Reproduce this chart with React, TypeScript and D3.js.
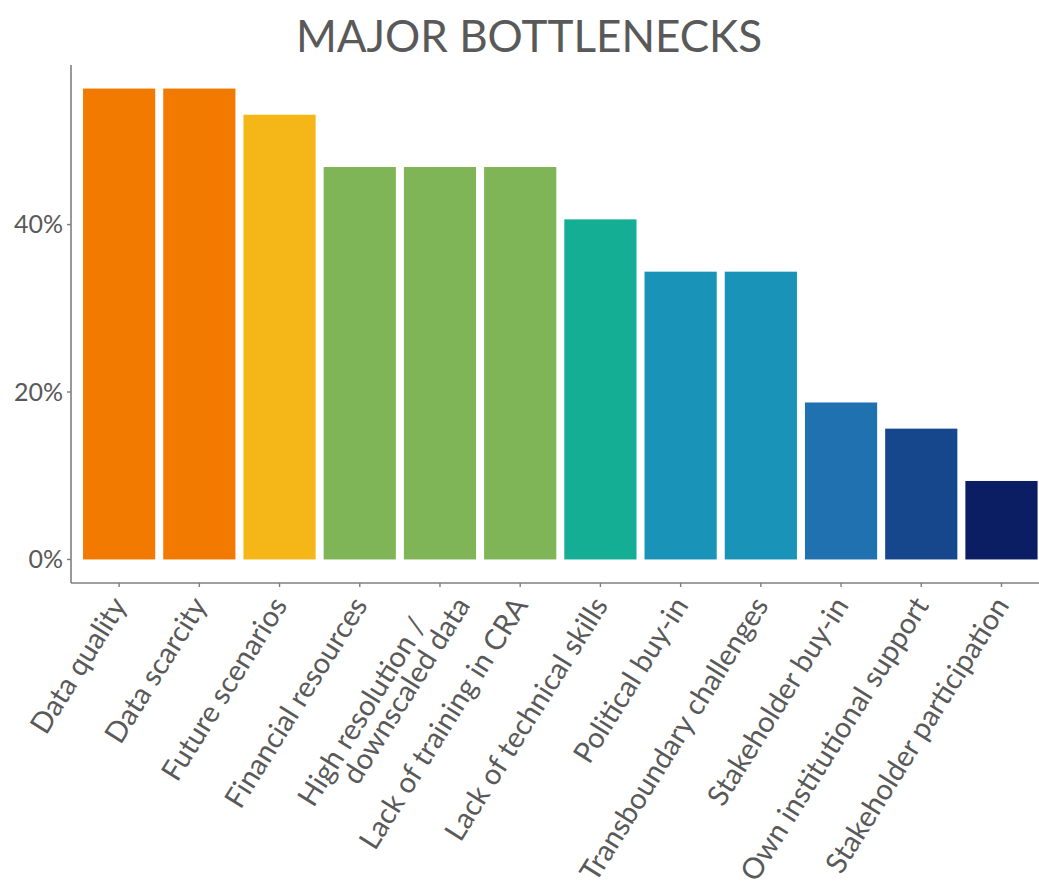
import React from "react";
import * as d3 from "d3";

const categories: string[][] = [
  ["Data quality"],
  ["Data scarcity"],
  ["Future scenarios"],
  ["Financial resources"],
  ["High resolution /", "downscaled data"],
  ["Lack of training in CRA"],
  ["Lack of technical skills"],
  ["Political buy-in"],
  ["Transboundary challenges"],
  ["Stakeholder buy-in"],
  ["Own institutional support"],
  ["Stakeholder participation"],
];
const values: number[] = [56.25, 56.25, 53.125, 46.875, 46.875, 46.875, 40.625, 34.375, 34.375, 18.75, 15.625, 9.375];
const colors: string[] = [
  "#F27A00", "#F27A00", "#F5B718", "#7FB457", "#7FB457", "#7FB457",
  "#13AE94", "#1994B8", "#1994B8", "#1F71B0", "#16478C", "#0B1D63",
];
const yTicks: number[] = [0, 20, 40];
const title = "MAJOR BOTTLENECKS";

const W = 1039;
const H = 892;
const FONT = "Lato, 'Open Sans', sans-serif";
const TEXT = "#595959";
const AXIS = "#7f7f7f";

export default function App() {
  const left = 71;
  const right = 1049.6;
  const top = 65;
  const bottom = 583;
  const maxV = d3.max(values) as number;
  const ex = maxV * 0.05;
  const keys = categories.map((c) => c.join(" "));
  const x = d3.scaleBand<string>().domain(keys).range([left, right]).paddingInner(0.1).paddingOuter(0.15);
  const y = d3.scaleLinear().domain([-ex, maxV + ex]).range([bottom, top]);
  const xFont = 29;
  const lineH = xFont * 0.9;
  const uStep = 40;
  const angle = -58;

  return (
    <div style={{ position: "absolute", left: 0, top: 0 }}>
      <svg width={W} height={H} style={{ display: "block", background: "#fff" }} fontFamily={FONT}>
        <text x={529} y={52} textAnchor="middle" fontSize={44} fill={TEXT}>{title}</text>
        {values.map((v, i) => (
          <rect
            key={i}
            x={x(keys[i])}
            y={y(v)}
            width={x.bandwidth()}
            height={y(0) - y(v)}
            fill={colors[i]}
          />
        ))}
        <line x1={left} x2={left} y1={top} y2={bottom} stroke={AXIS} strokeWidth={1.6} />
        <line x1={left} x2={W} y1={bottom} y2={bottom} stroke={AXIS} strokeWidth={1.6} />
        {yTicks.map((t) => (
          <g key={t}>
            <line x1={left - 4} x2={left} y1={y(t)} y2={y(t)} stroke={AXIS} strokeWidth={1.4} />
            <text x={left - 8} y={y(t)} dy="0.35em" textAnchor="end" fontSize={25} fill={TEXT}>{t + "%"}</text>
          </g>
        ))}
        {categories.map((lines, i) => {
          const cx = (x(keys[i]) as number) + x.bandwidth() / 2;
          const ay = bottom + 17;
          const n = lines.length;
          const uc = n > 1 ? -8 : 0;
          const vc = n > 1 ? 6 : 0;
          return (
            <g key={i}>
              <line x1={cx} x2={cx} y1={bottom} y2={bottom + 4} stroke={AXIS} strokeWidth={1.4} />
              <g transform={`translate(${cx},${ay}) rotate(${angle})`}>
                {lines.map((ln, j) => {
                  const k = j - (n - 1) / 2;
                  return (
                    <text
                      key={j}
                      x={uc + k * uStep}
                      y={vc + k * lineH}
                      dy="0.35em"
                      textAnchor="end"
                      fontSize={xFont}
                      fill={TEXT}
                    >
                      {ln}
                    </text>
                  );
                })}
              </g>
            </g>
          );
        })}
      </svg>
    </div>
  );
}
